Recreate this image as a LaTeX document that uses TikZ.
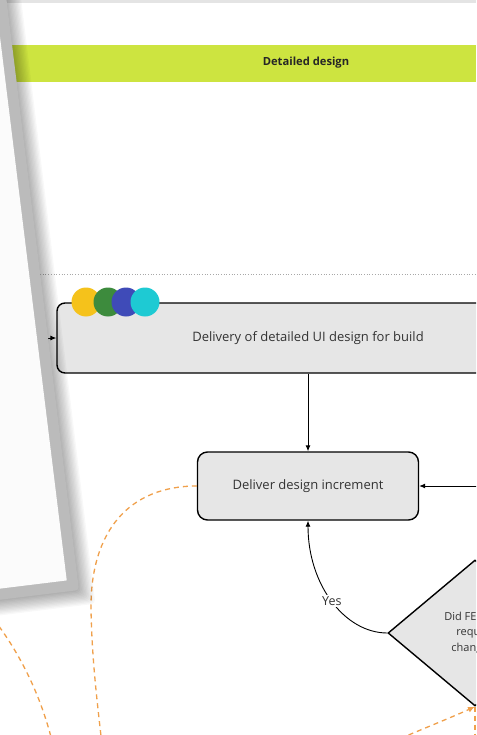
\documentclass[tikz,border=0pt]{standalone}
\usepackage{fontspec}
\setmainfont{Open Sans}
\usetikzlibrary{arrows.meta,shapes.geometric}

\definecolor{stripgrey}{HTML}{E4E4E4}
\definecolor{phaselime}{HTML}{CDE440}
\definecolor{boxfill}{HTML}{E6E6E6}
\definecolor{inktext}{HTML}{333333}
\definecolor{floworange}{HTML}{F0A04B}
\definecolor{framegrey}{HTML}{BBBBBB}
\definecolor{cardwhite}{HTML}{FBFBFB}
\definecolor{dotgrey}{HTML}{A8A8A8}
\definecolor{dotyellow}{HTML}{F5C21B}
\definecolor{dotgreen}{HTML}{3D8B3D}
\definecolor{dotblue}{HTML}{3F4BB8}
\definecolor{dotcyan}{HTML}{1ECAD3}

\tikzset{
  procbox/.style={draw=black, line width=1.4pt, fill=boxfill, text=inktext,
    font=\fontsize{13}{15}\selectfont, inner sep=0pt},
  decision/.style={shape=diamond, draw=black, line width=1.4pt, fill=boxfill,
    text=inktext, align=center, inner sep=0pt, minimum width=174pt,
    minimum height=146pt, font=\fontsize{11}{15.5}\selectfont},
  flow/.style={draw=black, line width=0.9pt, -{Latex[length=6pt,width=5pt]}},
  altflow/.style={draw=floworange, line width=1.3pt, dash pattern=on 5pt off 4pt},
  stakeholder/.style={circle, minimum size=29pt, inner sep=0pt},
  edgelabel/.style={fill=white, text=inktext, inner sep=1.5pt,
    font=\fontsize{12.5}{14}\selectfont}
}

\begin{document}
\begin{tikzpicture}[x=1pt,y=-1pt]
\useasboundingbox (0,0) rectangle (476,735);
\begin{scope}
\clip (0,0) rectangle (476,735);
\fill[white] (0,0) rectangle (476,735);

% top edge strip and the phase band
\fill[stripgrey] (0,0) rectangle (476,3);
\fill[phaselime] (0,45) rectangle (476,82);
\node[font=\bfseries\fontsize{11.2}{13}\selectfont, text=black!85] (phase) at (306,63) {Detailed design};

% swimlane divider
\draw[dotgrey, dotted, line width=0.7pt] (40,274) -- (476,274);

% process nodes
\node[procbox, minimum width=502pt, minimum height=70pt, rounded corners=8pt]
  (build) at (308,338) {Delivery of detailed UI design for build};
\node[procbox, minimum width=221pt, minimum height=68pt, rounded corners=10pt]
  (incr) at (308,486) {Deliver design increment};
\node[decision] (fe) at (475,633) {Did FE team\\require\\changes?};

% stakeholder dots on the build box
\node[stakeholder, fill=dotyellow] (sy) at (86,302) {};
\node[stakeholder, fill=dotgreen]  (sg) at (108,302) {};
\node[stakeholder, fill=dotblue]   (sb) at (126,302) {};
\node[stakeholder, fill=dotcyan]   (sc) at (145,302) {};

% loose ends of connectors
\coordinate (fromleft) at (30,338);
\coordinate (fromright) at (485,486);
\coordinate (downA) at (102,745);
\coordinate (upB) at (-12,612);
\coordinate (downB) at (53,745);
\coordinate (upC) at (392,742);
\coordinate (downC) at (475,745);

% connectors
\draw[flow] (fromleft) -- (build.west);
\draw[flow] (build.south) -- (incr.north);
\draw[flow] (fromright) -- (incr.east);
\draw[flow] (fe.west) .. controls (345,633) and (308,585) .. (incr.south)
  node[edgelabel, pos=0.5] {Yes};

% dashed orange paths
\draw[altflow] (incr.west) .. controls (130,486) and (90,530) .. (91,610)
  .. controls (92,660) and (97,700) .. (downA);
\draw[altflow] (upB) .. controls (15,645) and (40,690) .. (downB);
\draw[altflow, -{Latex[length=7pt,width=6pt]}] (upC) .. controls (420,730) and (450,718) .. (fe.south);
\draw[altflow] (fe.south) -- (downC);

% tilted card overlapping the left side, with a soft stacked shadow
\begin{scope}[shift={(79,590)}, rotate=7]
  \foreach \s in {1,...,12}{
    \fill[black, opacity=0.028, rounded corners=4pt]
      (-800,-800) rectangle (1.3*\s-1, 1.3*\s);
  }
  \fill[framegrey, rounded corners=3pt] (-800,-800) rectangle (0,0);
  \fill[cardwhite] (-800,-800) rectangle (-11,-11);
\end{scope}
\end{scope}
\end{tikzpicture}
\end{document}
